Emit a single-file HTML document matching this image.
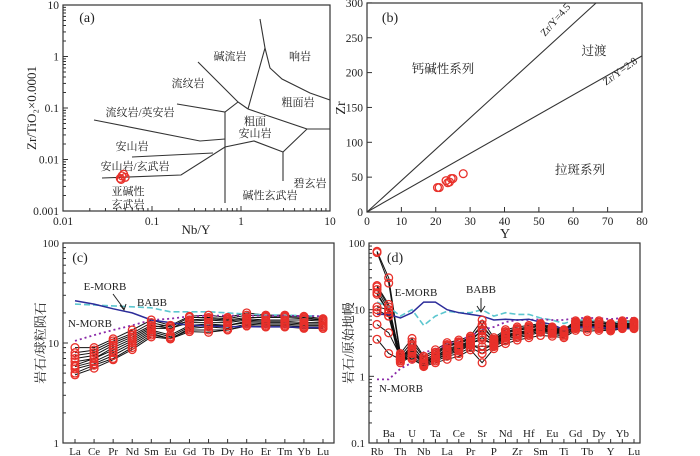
<!DOCTYPE html>
<html><head><meta charset="utf-8"><style>
body{margin:0;background:#fff}
svg{display:block}
text{font-family:"Liberation Serif","Noto Serif CJK SC",serif;fill:#222}
</style></head><body>
<svg id="s" width="700" height="456" viewBox="0 0 700 456"></svg>
<script>
// ---- Panel (a) data
const aPtsX=[0.044,0.046,0.048,0.05,0.045];
const aPtsY=[0.0043,0.0048,0.0052,0.0045,0.0041];
// ---- Panel (b) data
const bY=[20.5,21,23,23.5,24,24.5,25,28];
const bZr=[35,35,45,42,43,48,48,55];
const bRatios=[4.5,2.8];
// ---- Panel (c) data
const cCats=["La","Ce","Pr","Nd","Sm","Eu","Gd","Tb","Dy","Ho","Er","Tm","Yb","Lu"];
const cSamples=[
[9,9,11,13.5,17,15,18.5,19,18,20,19,19,18.5,17.5],
[8,8.5,10.5,12.5,16,14.5,18,18,17.5,19,18.5,18.5,18,17],
[7.5,8,10,12,15,14,17,17.5,17,18,18,18,17.5,17],
[7,7.5,9.5,11.5,14.5,15,16.5,17,16.5,17.5,17,17,17,16.5],
[6.5,7,9,11,14,14,16,16,16,17,16.5,16.5,16,16],
[6,7,8.5,10.5,13.5,12,15,15.5,15,16.5,16,16,15.5,15.5],
[5.8,6.5,8,10,13,11.5,14.5,15,15,16,15.5,15.5,15,15],
[5.5,6.2,7.5,9.5,12.5,11,14,14.5,14,15.5,15,15,14.5,14.5],
[5,6,7,9,12,11.2,13.5,13.5,13.5,15,14.5,14.5,14,14],
[4.8,5.6,6.8,8.6,11.5,11,13,12.8,13.5,14.8,14.5,14.5,14.2,14]];
const cEMORB=[26.5,24.5,22,20,17,16,15,14.8,14.6,14.6,14.5,14.5,14.3,14.2];
const cBABB=[24.5,24,23.5,23,22.5,20.5,20.5,20.5,20,19.5,19,19,18.8,18.5];
const cNMORB=[10.5,12,13.5,15,17,17.5,18.5,18.8,18.8,18.8,18.7,18.7,18.6,18.5];
// ---- Panel (d) data
const dCats=["Rb","Ba","Th","U","Nb","Ta","La","Ce","Pr","Sr","P","Nd","Zr","Hf","Sm","Eu","Ti","Gd","Tb","Dy","Y","Yb","Lu"];
const dByElem=[
[75,72,23,20,17,10,6,3.6,22,18,9,11],
[30,25,12,10,9,8,4.5,2.2,11,9,8,10],
[2.2,2,1.9,1.8,1.7,1.6,2,1.8,1.9,1.7,1.8,2.1],
[3.7,3.3,2.8,2.5,2.2,2,1.8,1.9,2.6,2.4,3,2.3],
[2,1.9,1.8,1.7,1.6,1.5,1.45,1.4,1.6,1.55,1.7,1.5],
[2.5,2.3,2.1,2,1.9,1.8,1.7,1.6,2,1.9,2.2,1.8],
[3.2,3,2.8,2.6,2.4,2.2,2,1.8,2.5,2.3,2.9,2.1],
[3.5,3.3,3.1,2.9,2.7,2.5,2.2,2,2.8,2.6,3.2,2.4],
[4,3.8,3.6,3.4,3.2,3,2.7,2.5,3.3,3.1,3.7,2.9],
[7,5.5,4.8,4,3.5,2.5,2.2,1.6,5,3.8,6,2.8],
[3.8,3.6,3.4,3.3,3.1,3,2.8,2.6,3.2,3,3.5,2.9],
[5,4.7,4.4,4.2,4,3.8,3.4,3.1,4.1,3.9,4.6,3.6],
[5.5,5.2,4.9,4.6,4.4,4.2,3.8,3.5,4.5,4.3,5,4],
[5.8,5.5,5.2,4.9,4.7,4.5,4.1,3.8,4.8,4.6,5.3,4.3],
[6.2,6,5.7,5.4,5.2,5,4.6,4.1,5.3,5.1,5.8,4.8],
[5.5,5.3,5.1,5,4.8,4.6,4.3,4,4.9,4.7,5.2,4.5],
[5,4.8,4.7,4.6,4.5,4.4,4,3.8,4.6,4.5,4.9,4.2],
[6.8,6.5,6.2,6,5.8,5.6,5.2,4.9,5.9,5.7,6.4,5.4],
[7,6.7,6.4,6.1,5.9,5.7,5.1,4.7,6,5.8,6.6,5.5],
[6.8,6.5,6.3,6,5.8,5.6,5.2,4.9,5.9,5.7,6.4,5.4],
[6.2,6,5.8,5.6,5.4,5.2,5,4.8,5.5,5.3,5.9,5.1],
[6.8,6.5,6.3,6.1,5.9,5.7,5.4,5.2,6,5.8,6.4,5.6],
[6.7,6.5,6.3,6.1,5.9,5.7,5.4,5.2,6,5.8,6.4,5.6]];
const dEMORB=[8.5,8.5,7.5,9,13,13,10,9,8.5,8,7,7.2,7,7.2,6.5,6,5,5.5,5.5,5.5,5.2,5.2,5.2];
const dBABB=[13,11,8,10,5.8,8,9.5,9,9,10,8,9,8.5,8.5,7.5,7,6.2,7,7,6.8,6.5,6.5,6.5];
const dNMORB=[0.9,0.9,1.3,1.6,2.3,2.5,3,3.5,4,5,5.5,6.5,7,7,7.2,7,7,7.5,7.5,7.5,7.2,7.5,7.5];

const NS="http://www.w3.org/2000/svg";
const S=document.getElementById('s');
function el(tag,attrs,parent){const e=document.createElementNS(NS,tag);for(const k in attrs)e.setAttribute(k,attrs[k]);(parent||S).appendChild(e);return e;}
function txt(x,y,s,opt,parent){const t=el('text',Object.assign({x:x,y:y,'font-size':11.5,'text-anchor':'middle'},opt||{}),parent);t.textContent=s;return t;}
function poly(pts,opt,parent){return el('polyline',Object.assign({points:pts.map(p=>p[0].toFixed(1)+','+p[1].toFixed(1)).join(' '),fill:'none',stroke:'#222','stroke-width':1},opt||{}),parent);}
function circ(x,y,parent){const c=el('circle',{cx:x,cy:y,r:3.9,fill:'none',stroke:'#e8302a','stroke-width':1.3},parent);return c;}

// ================= Panel a
const ga=el('g',{});

const ax=v=>63+(Math.log10(v)+2)*89, ay=v=>5+(1-Math.log10(v))*51.5;
el('rect',{x:63,y:5,width:267,height:206,fill:'none',stroke:'#333','stroke-width':1.2},ga);
[0.01,0.1,1,10].forEach(v=>{const x=ax(v);el('line',{x1:x,y1:211,x2:x,y2:206,stroke:'#333'},ga);
 const t=txt(x,225,String(v),{},ga);
 for(let k=2;k<10&&v<10;k++){const xm=ax(v*k);el('line',{x1:xm,y1:211,x2:xm,y2:208,stroke:'#333'},ga);}});
[10,1,0.1,0.01,0.001].forEach(v=>{const y=ay(v);el('line',{x1:63,y1:y,x2:68,y2:y,stroke:'#333'},ga);
 const t=txt(59,y+4,String(v),{'text-anchor':'end'},ga);
 for(let k=2;k<10&&v<10;k++){const ym=ay(v*k);el('line',{x1:63,y1:ym,x2:66,y2:ym,stroke:'#333'},ga);}});
const aLines=[[[94,120],[200,141],[225,139]],[[177,104],[225,112],[238,102]],[[198,62],[238,102],[248,109]],[[225,112],[225,203]],
[[132,157],[213,153]],[[102,178],[181,175],[225,147],[254,141],[283,152],[307,129],[330,129]],[[248,109],[307,129]],
[[248,109],[265,48],[260,19]],[[265,48],[270,68],[282,79],[310,93],[330,100]],[[283,152],[283,181]]];
aLines.forEach(l=>{const p=poly(l,{stroke:'#333','stroke-width':1.1},ga);});
[["碱流岩",230,60],["响岩",300,60],["流纹岩",188,87],["粗面岩",298,106],["流纹岩/英安岩",140,116],["粗面",255,125],["安山岩",255,137],["安山岩",132,150],["安山岩/玄武岩",135,170],["亚碱性",128,195],["玄武岩",128,208],["碱性玄武岩",270,199],["碧玄岩",310,187]].forEach(a=>{const t=txt(a[1],a[2],a[0],{'font-size':11},ga);});
aPtsX.forEach((v,i)=>{const c=circ(ax(v),ay(aPtsY[i]),ga);});
txt(87,22,"(a)",{'font-size':14},ga);
const aXT=txt(196,234,"Nb/Y",{'font-size':13},ga);
const aYT=txt(0,0,"Zr/TiO₂×0.0001",{'font-size':13,transform:'translate(36,108) rotate(-90)'},ga);

// ================= Panel b
const gb=el('g',{});

const bx=v=>367+v*(275/80), by=v=>212-v*0.697;
el('rect',{x:367,y:3,width:275,height:209,fill:'none',stroke:'#333','stroke-width':1.2},gb);
for(let v=0;v<=80;v+=10){const x=bx(v);el('line',{x1:x,y1:212,x2:x,y2:207,stroke:'#333'},gb);
 const t=txt(x,225,String(v),{},gb);}
for(let v=0;v<=300;v+=50){const y=by(v);el('line',{x1:367,y1:y,x2:372,y2:y,stroke:'#333'},gb);
 const t=txt(363,y+4,String(v),{'text-anchor':'end'},gb);}
bRatios.forEach(r=>{const ymax=Math.min(80,300/r);const l=el('line',{x1:bx(0),y1:by(0),x2:bx(ymax),y2:by(ymax*r),stroke:'#333','stroke-width':1.1},gb);});
txt(0,0,"Zr/Y=4.5",{'font-size':10.5,transform:'translate(558,22) rotate(-49)'},gb);
txt(0,0,"Zr/Y=2.8",{'font-size':10.5,transform:'translate(622,74) rotate(-36)'},gb);
txt(594,55,"过渡",{'font-size':12.5},gb);txt(443,73,"钙碱性系列",{'font-size':12.5},gb);txt(580,174,"拉斑系列",{'font-size':12.5},gb);
bY.forEach((v,i)=>{const c=circ(bx(v),by(bZr[i]),gb);});
txt(390,22,"(b)",{'font-size':14},gb);
txt(505,238,"Y",{'font-size':14},gb);
txt(0,0,"Zr",{'font-size':14,transform:'translate(345,108) rotate(-90)'},gb);

// ================= spider helper
function spider(g,x0,x1,top,bottom,decTop,decBottom,cats,samples,em,ba,nm,catX,rowY2){
 const n=cats.length;const cx=i=>x0+i*(x1-x0)/(n-1);
 const cy=v=>top+(decTop-Math.log10(v))*(bottom-top)/(decTop-decBottom);
 const L=catX[0],R=catX[1];
 el('rect',{x:L,y:top,width:R-L,height:bottom-top,fill:'none',stroke:'#333','stroke-width':1.2},g);
 for(let d=decBottom;d<=decTop;d++){const y=cy(Math.pow(10,d));el('line',{x1:L,y1:y,x2:L+5,y2:y,stroke:'#333'},g);
  const t=txt(L-4,y+4,String(Math.pow(10,d)>=1?Math.pow(10,d):0.1),{'text-anchor':'end','font-size':11},g);
  if(d<decTop)for(let k=2;k<10;k++){const ym=cy(k*Math.pow(10,d));el('line',{x1:L,y1:ym,x2:L+3,y2:ym,stroke:'#333'},g);}}
 cats.forEach((c,i)=>{el('line',{x1:cx(i),y1:bottom,x2:cx(i),y2:bottom-4,stroke:'#333'},g);
  const t=txt(cx(i),(rowY2&&i%2==1)?bottom-6:bottom+12,c,{'font-size':11},g);});
 const refs=[[ba,{stroke:'#5cc6cf','stroke-width':1.6,'stroke-dasharray':'6,3'},'babb-line'],[nm,{stroke:'#8a2aa8','stroke-width':1.8,'stroke-dasharray':'2,3'},'nmorb-line'],[em,{stroke:'#2c2c9a','stroke-width':1.5},'emorb-line']];
 samples.forEach(s=>{const p=poly(s.map((v,i)=>[cx(i),cy(v)]),{stroke:'#111','stroke-width':1},g);});
 refs.forEach(r=>{const p=poly(r[0].map((v,i)=>[cx(i),cy(v)]),r[1],g);});
 samples.forEach(s=>s.forEach((v,i)=>{const c=circ(cx(i),cy(v),g);}));
}
// ================= Panel c
const gc=el('g',{});

spider(gc,75,323,243,443,2,0,cCats,cSamples,cEMORB,cBABB,cNMORB,[63,334],false);
txt(80,262,"(c)",{'font-size':14},gc);
txt(105,290,"E-MORB",{'font-size':11},gc);txt(152,306,"BABB",{'font-size':11},gc);txt(90,327,"N-MORB",{'font-size':11},gc);
poly([[113,294],[124,309]],{},gc);poly([[120,305],[124,310],[126,304]],{},gc);
txt(0,0,"岩石/球粒陨石",{'font-size':13,fill:'#666',transform:'translate(45,343) rotate(-90)'},gc);
// ================= Panel d
const gd=el('g',{});

const dSamples=dByElem[0].map((_,j)=>dByElem.map(r=>r[j]));
spider(gd,377,634,243,443,2,-1,dCats,dSamples,dEMORB,dBABB,dNMORB,[369,640],true);
txt(395,262,"(d)",{'font-size':14},gd);
txt(416,296,"E-MORB",{'font-size':11},gd);txt(481,293,"BABB",{'font-size':11},gd);txt(401,392,"N-MORB",{'font-size':11},gd);
poly([[481,298],[481,311]],{},gd);poly([[477,306],[481,312],[485,306]],{},gd);
txt(0,0,"岩石/原始地幔",{'font-size':13,fill:'#666',transform:'translate(353,343) rotate(-90)'},gd);
</script>
</body></html>
